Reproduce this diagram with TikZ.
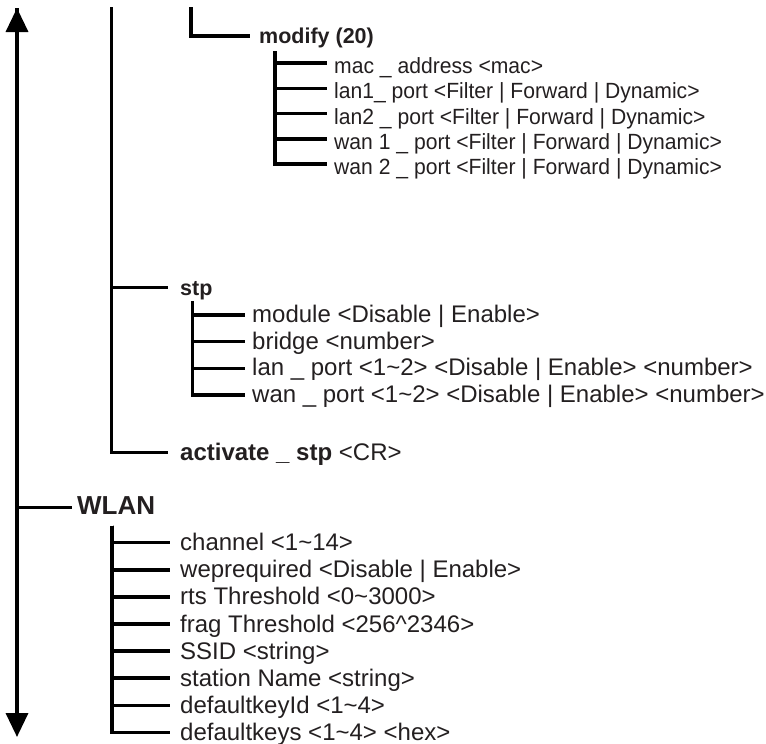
\documentclass[tikz,border=0pt]{standalone}
\usepackage{fontspec}
\setmainfont{Liberation Sans}
\newfontfamily\narrowA[FakeStretch=0.96]{Liberation Sans}
\usetikzlibrary{arrows.meta}
\definecolor{ink}{RGB}{35,31,32}
\begin{document}
\begin{tikzpicture}[x=1pt,y=-1pt,
  tree/.style={draw=black,line width=3.5pt,line cap=butt,line join=miter},
  lbl/.style={anchor=west,inner ysep=0pt,text depth=0pt,text=ink},
  leafA/.style={lbl,inner xsep=7pt,text height=21pt,font=\narrowA\fontsize{22}{26}\selectfont},
  leafB/.style={lbl,inner xsep=7pt,text height=15pt,font=\fontsize{24}{28}\selectfont},
  leafC/.style={lbl,inner xsep=10pt,text height=16pt,font=\fontsize{24}{28}\selectfont},
  head/.style={lbl,text height=15pt,font=\bfseries\fontsize{21.5}{26}\selectfont},
  headbig/.style={lbl,text height=13pt,font=\bfseries\fontsize{26}{30}\selectfont},
]
\useasboundingbox (0,0) rectangle (766,744);

% main arrow
\coordinate (atop) at (17,8);
\coordinate (abot) at (17,737);
\draw[tree,{Triangle[length=24pt,width=22pt]}-{Triangle[length=24pt,width=22pt]}] (atop) -- (abot);

% second level vertical
\coordinate (v2top) at (111.5,7);
\coordinate (v3top) at (191,7);

% modify
\node[head,inner xsep=9pt] (modify) at (250,36) {modify (20)};
\draw[tree] (v3top) |- (modify.west);

\coordinate (mtop) at (275,51);
\node[leafA] (mac)  at (327,63)     {mac \_ address <mac>};
\node[leafA] (lan1) at (327,88.25)  {lan1\_ port <Filter | Forward | Dynamic>};
\node[leafA] (lan2) at (327,113.5)  {lan2 \_ port <Filter | Forward | Dynamic>};
\node[leafA] (wan1) at (327,138.75) {wan 1 \_ port <Filter | Forward | Dynamic>};
\node[leafA] (wan2) at (327,164)    {wan 2 \_ port <Filter | Forward | Dynamic>};
\foreach \n in {mac,lan1,lan2,wan1,wan2} \draw[tree] (mtop) |- (\n.west);

% stp
\node[head,inner xsep=12pt] (stp) at (168,287.5) {stp};
\node[head,inner xsep=12pt,font=\fontsize{24}{28}\selectfont] (act) at (168,452.7) {\textbf{activate \_ stp} <CR>};
\draw[tree] (v2top) |- (stp.west);
\draw[tree] (v2top) |- (act.west);

\coordinate (stop) at (192.5,301);
\node[leafB] (module) at (245,315)   {module <Disable | Enable>};
\node[leafB] (bridge) at (245,341.7) {bridge <number>};
\node[leafB] (lanp)   at (245,368.3) {lan \_ port <1\textasciitilde 2> <Disable | Enable> <number>};
\node[leafB] (wanp)   at (245,395)   {wan \_ port <1\textasciitilde 2> <Disable | Enable> <number>};
\foreach \n in {module,bridge,lanp,wanp} \draw[tree] (stop) |- (\n.west);

% WLAN
\node[headbig,inner xsep=5pt] (wlan) at (72,507.5) {WLAN};
\draw[tree] (atop) |- (wlan.west);

\coordinate (wtop) at (112,525.7);
\node[leafC] (chan)  at (170,542.7) {channel <1\textasciitilde 14>};
\node[leafC] (wep)   at (170,569.8) {weprequired <Disable | Enable>};
\node[leafC] (rts)   at (170,596.9) {rts Threshold <0\textasciitilde 3000>};
\node[leafC] (frag)  at (170,624.0) {frag Threshold <256\textasciicircum 2346>};
\node[leafC] (ssid)  at (170,651.1) {SSID <string>};
\node[leafC] (stat)  at (170,678.2) {station Name <string>};
\node[leafC] (dkid)  at (170,705.3) {defaultkeyId <1\textasciitilde 4>};
\node[leafC] (dkeys) at (170,732.4) {defaultkeys <1\textasciitilde 4> <hex>};
\foreach \n in {chan,wep,rts,frag,ssid,stat,dkid,dkeys} \draw[tree] (wtop) |- (\n.west);
\end{tikzpicture}
\end{document}
